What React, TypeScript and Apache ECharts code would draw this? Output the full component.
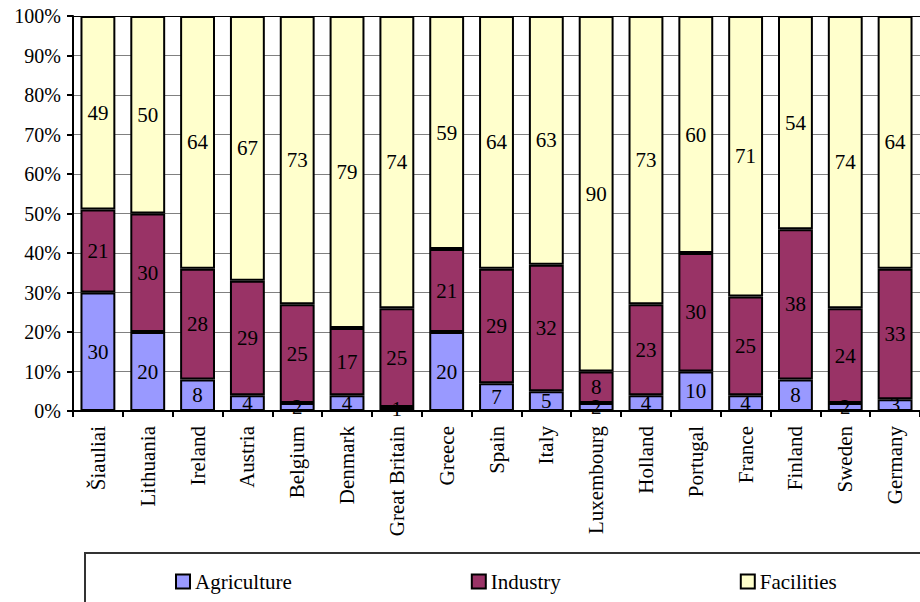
import React, { useEffect, useRef } from "react";
import * as echarts from "echarts";

const categories = [
  "Šiauliai", "Lithuania", "Ireland", "Austria", "Belgium", "Denmark",
  "Great Britain", "Greece", "Spain", "Italy", "Luxembourg", "Holland",
  "Portugal", "France", "Finland", "Sweden", "Germany",
];
const agriculture = [30, 20, 8, 4, 2, 4, 1, 20, 7, 5, 2, 4, 10, 4, 8, 2, 3];
const industry = [21, 30, 28, 29, 25, 17, 25, 21, 29, 32, 8, 23, 30, 25, 38, 24, 33];
const facilities = [49, 50, 64, 67, 73, 79, 74, 59, 64, 63, 90, 73, 60, 71, 54, 74, 64];
const yTicks = [0, 10, 20, 30, 40, 50, 60, 70, 80, 90, 100];

const FONT = "'Liberation Serif', 'Times New Roman', serif";

export default function App() {
  const ref = useRef<HTMLDivElement>(null);
  useEffect(() => {
    if (!ref.current) return;
    const chart = echarts.init(ref.current, null, { renderer: "svg" });
    const mkSeries = (name: string, data: number[], color: string) => ({
      name,
      type: "bar",
      stack: "total",
      data,
      barWidth: "70%",
      itemStyle: { color, borderColor: "#000", borderWidth: 2 },
      label: {
        show: true,
        position: "inside",
        color: "#000",
        fontFamily: FONT,
        fontSize: 21,
      },
    });
    chart.setOption({
      animation: false,
      backgroundColor: "#fff",
      textStyle: { fontFamily: FONT },
      grid: { left: 73, top: 16, width: 850, height: 395, containLabel: false },
      legend: {
        left: 170,
        top: 566,
        itemWidth: 14,
        itemHeight: 14,
        itemGap: 179,
        icon: "rect",
        textStyle: { fontFamily: FONT, fontSize: 21, color: "#000" },
        itemStyle: { borderColor: "#000", borderWidth: 2 },
        data: ["Agriculture", "Industry", "Facilities"],
      },
      graphic: [
        {
          type: "rect",
          shape: { x: 85, y: 553, width: 900, height: 100 },
          style: { fill: "none", stroke: "#333", lineWidth: 2 },
          silent: true,
        },
      ],
      xAxis: {
        type: "category",
        data: categories,
        boundaryGap: true,
        axisLine: { lineStyle: { color: "#000", width: 2 } },
        axisTick: { show: true, length: 6, lineStyle: { color: "#000", width: 2 } },
        axisLabel: {
          rotate: 90,
          interval: 0,
          margin: 15,
          color: "#000",
          fontFamily: FONT,
          fontSize: 21,
        },
      },
      yAxis: {
        type: "value",
        min: yTicks[0],
        max: yTicks[yTicks.length - 1],
        interval: 10,
        axisLine: { show: true, lineStyle: { color: "#000", width: 2 } },
        axisTick: { show: true, length: 6, lineStyle: { color: "#000", width: 2 } },
        axisLabel: {
          formatter: (v: number) => v + "%",
          color: "#000",
          fontFamily: FONT,
          fontSize: 20,
          margin: 12,
        },
        splitLine: {
          show: true,
          lineStyle: {
            color: [
              "#808080", "#808080", "#808080", "#808080", "#808080", "#808080",
              "#808080", "#808080", "#808080", "#808080", "#000000",
            ],
            width: 1,
          },
        },
      },
      series: [
        mkSeries("Agriculture", agriculture, "#9999FF"),
        mkSeries("Industry", industry, "#993366"),
        mkSeries("Facilities", facilities, "#FFFFCC"),
      ],
    });
    return () => chart.dispose();
  }, []);
  return (
    <div
      ref={ref}
      style={{ position: "fixed", left: 0, top: 0, width: 920, height: 602 }}
    />
  );
}
